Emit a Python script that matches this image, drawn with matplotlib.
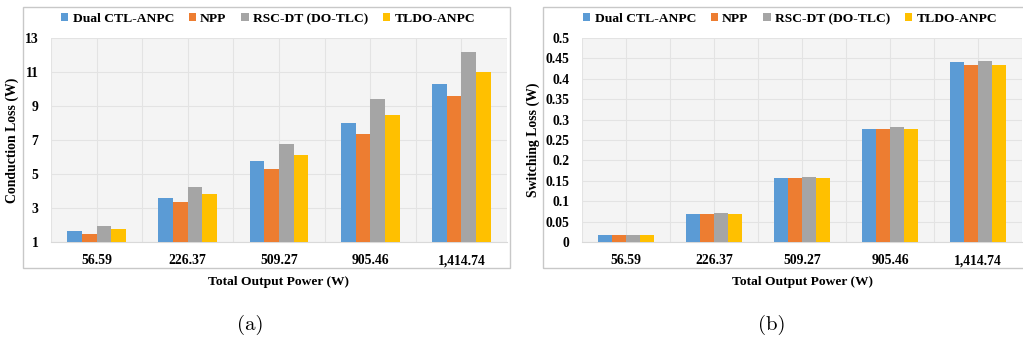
import matplotlib
matplotlib.use("Agg")
import matplotlib.pyplot as plt
import numpy as np
from matplotlib.patches import Rectangle
from matplotlib.ticker import FuncFormatter

# data
categories = ["56.59", "226.37", "509.27", "905.46", "1,414.74"]
series = ["Dual CTL-ANPC", "NPP", "RSC-DT (DO-TLC)", "TLDO-ANPC"]
colors = ["#5B9BD5", "#ED7D31", "#A5A5A5", "#FFC000"]

conduction_loss = [
    [1.63, 3.61, 5.76, 8.00, 10.31],   # Dual CTL-ANPC
    [1.49, 3.35, 5.31, 7.37, 9.57],    # NPP
    [1.92, 4.25, 6.78, 9.43, 12.18],   # RSC-DT (DO-TLC)
    [1.76, 3.84, 6.12, 8.49, 10.98],   # TLDO-ANPC
]
conduction_ticks = [1, 3, 5, 7, 9, 11, 13]

switching_loss = [
    [0.0165, 0.069, 0.156, 0.278, 0.442],
    [0.0165, 0.069, 0.156, 0.277, 0.435],
    [0.0170, 0.070, 0.160, 0.283, 0.444],
    [0.0165, 0.069, 0.156, 0.277, 0.435],
]
switching_ticks = [0, 0.05, 0.1, 0.15, 0.2, 0.25, 0.3, 0.35, 0.4, 0.45, 0.5]

W, H = 1023, 342
plt.rcParams["font.family"] = ["Liberation Serif", "DejaVu Serif"]
plt.rcParams["font.weight"] = "bold"
plt.rcParams["hatch.color"] = "#e9e9e9"
plt.rcParams["hatch.linewidth"] = 0.6

fig = plt.figure(figsize=(W / 100, H / 100), dpi=100)


def px_axes(left, top, right, bottom):
    return fig.add_axes([left / W, 1 - bottom / H, (right - left) / W, (bottom - top) / H])


def draw_panel(ax, data, yticks, ylabel):
    x = np.arange(len(categories))
    bw = 0.161
    y0 = yticks[0]
    for i, (name, vals) in enumerate(zip(series, data)):
        ax.bar(x + (i - 1.5) * bw, np.array(vals) - y0, bw, bottom=y0,
               color=colors[i], label=name, zorder=3)
    ax.set_xlim(-0.5, len(categories) - 0.5)
    ax.set_ylim(yticks[0], yticks[-1])
    ax.set_facecolor("#f4f4f4")
    ax.patch.set_hatch("////")
    ax.set_xticks(x)
    ax.set_xticklabels(categories, fontsize=9.8, fontweight="bold")
    ax.set_xticks(np.arange(-0.5, len(categories), 1.0), minor=True)
    ax.set_yticks(yticks)
    ax.yaxis.set_major_formatter(FuncFormatter(lambda v, p: f"{round(v, 2):g}"))
    ax.tick_params(axis="both", which="both", length=0)
    ax.tick_params(axis="x", pad=9)
    ax.tick_params(axis="y", pad=9, labelsize=9.8)
    for lab in ax.get_yticklabels():
        lab.set_fontweight("bold")
    ax.grid(True, which="both", color="#e3e3e3", linewidth=0.8, zorder=0)
    ax.set_axisbelow(True)
    for s in ["top", "right", "left"]:
        ax.spines[s].set_visible(False)
    ax.spines["bottom"].set_color("#d9d9d9")
    ax.set_ylabel(ylabel, fontsize=9.9, fontweight="bold", labelpad=4)
    ax.set_xlabel("Total Output Power (W)", fontsize=9.7, fontweight="bold", labelpad=6)


ax1 = px_axes(51, 38, 507, 242)
draw_panel(ax1, conduction_loss, conduction_ticks, "Conduction Loss (W)")
ax2 = px_axes(582, 38, 1022, 242)
draw_panel(ax2, switching_loss, switching_ticks, "Switching Loss (W)")

# frames around each chart
for l, r in [(23, 510), (543, 1030)]:
    fig.patches.append(Rectangle((l / W, 1 - 268 / H), (r - l) / W, (268 - 7) / H,
                                 transform=fig.transFigure, fill=False,
                                 edgecolor="#c8c8c8", linewidth=1.0))

# legends
for ax, cx in [(ax1, 268), (ax2, 790)]:
    handles, labels = ax.get_legend_handles_labels()
    fig.legend(handles, labels, loc="center", bbox_to_anchor=(cx / W, 1 - 19 / H),
               ncol=4, frameon=False, handlelength=0.55, handleheight=0.55,
               handletextpad=0.3, columnspacing=1.1, prop={"weight": "bold", "size": 9.7})

fig.text(250 / W, 1 - 325 / H, "(a)", fontsize=15, family="cmr10", fontweight="normal",
         ha="center", va="center")
fig.text(772 / W, 1 - 325 / H, "(b)", fontsize=15, family="cmr10", fontweight="normal",
         ha="center", va="center")

fig.savefig("out.png", dpi=100)
